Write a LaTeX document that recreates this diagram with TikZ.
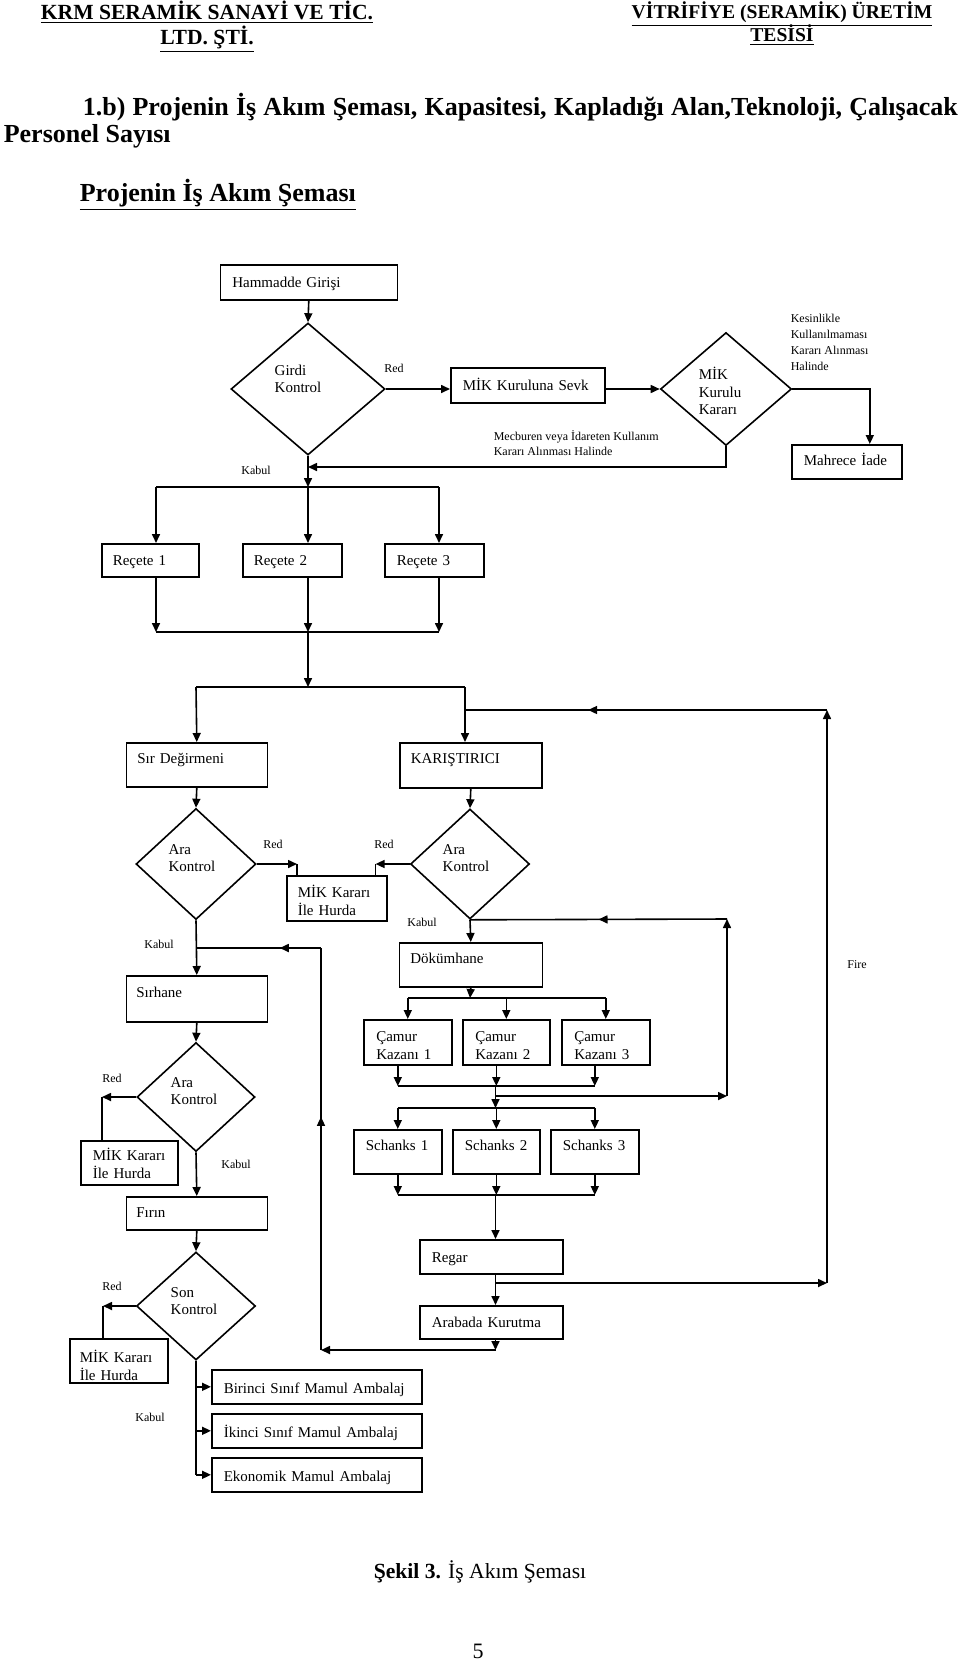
\documentclass[tikz,border=0pt]{standalone}
\usepackage{fontspec}
\setmainfont{Liberation Serif}
\usetikzlibrary{shapes.geometric,arrows.meta,decorations.markings}
\newcommand{\boxfont}{\fontsize{7.5}{8.75}\selectfont}
\newcommand{\tagfont}{\fontsize{6}{7.5}\selectfont}
\tikzset{
box/.style n args={4}{draw, anchor=north west, align=left, font=\boxfont,
  inner ysep=0pt, inner xsep={#3*0.5pt}, text width={(#1-2*#3)*0.5pt},
  text height={#4*0.5pt}, text depth={(#2-#4)*0.5pt}},
diam/.style 2 args={draw, diamond, inner sep=0pt,
  minimum width={#1*0.5pt}, minimum height={#2*0.5pt}},
tag/.style={font=\tagfont, inner sep=0pt},
flow/.style={-{Triangle[length=4.5pt,width=4pt]}},
midflow/.style={postaction={decorate}, decoration={markings,
  mark=at position #1 with {\arrow{Triangle[length=4.5pt,width=4pt]}}}}
}

\begin{document}
\begin{tikzpicture}[x=0.5pt, y=-0.5pt, line width=0.8pt]
\fill[white] (0,0) rectangle (960,1661);
\useasboundingbox (0,0) rectangle (960,1661);

\node[anchor=base, font=\bfseries\fontsize{10.8}{12}\selectfont] (firma1) at (207,19) {\underline{KRM SERAMİK SANAYİ VE TİC.}};
\node[anchor=base, font=\bfseries\fontsize{10.8}{12}\selectfont] (firma2) at (207,44) {\underline{LTD. ŞTİ.}};
\node[anchor=base, font=\bfseries\fontsize{9.8}{11.5}\selectfont] (tesis1) at (782,18) {\underline{VİTRİFİYE (SERAMİK) ÜRETİM}};
\node[anchor=base, font=\bfseries\fontsize{9.8}{11.5}\selectfont] (tesis2) at (782,41) {\underline{TESİSİ}};
\node[anchor=base west, align=left, inner sep=0pt, font=\bfseries\fontsize{13}{13.5}\selectfont] (baslik) at (3,142)
  {\hspace*{39.5pt}\makebox[437.5pt][s]{1.b) Projenin İş Akım Şeması, Kapasitesi, Kapladığı Alan,Teknoloji, Çalışacak}\\Personel Sayısı};
\node[anchor=base west, inner sep=0pt, font=\bfseries\fontsize{13}{14}\selectfont] (semabaslik) at (79,201)
  {\underline{Projenin İş Akım Şeması}};

\node[box={177}{35}{12}{23}] (ham) at (219.5,264) {Hammadde Girişi};
\node[diam={154}{132}, label={[font=\boxfont, align=left, xshift=-5pt, yshift=5pt]center:Girdi\\Kontrol}] (girdi) at (308,389) {};
\node[box={154}{35}{12}{23}] (sevk) at (450,367) {MİK Kuruluna Sevk};
\node[diam={131}{113}, label={[font=\boxfont, align=left, xshift=-3pt, yshift=-1pt]center:MİK\\Kurulu\\Kararı}] (karar) at (726,389) {};
\node[box={110}{34}{12}{21}] (mahrece) at (791,444) {Mahrece İade};
\node[tag] (redg) at (394,368) {Red};
\node[tag] (kabg) at (256,470) {Kabul};
\node[tag, anchor=north west, align=left, font=\fontsize{6}{8}\selectfont] (kesin) at (790,313) {Kesinlikle\\Kullanılmaması\\Kararı Alınması\\Halinde};
\node[tag, anchor=north west, align=left] (mecb) at (493,430) {Mecburen veya İdareten Kullanım\\Kararı Alınması Halinde};

\node[box={97}{33}{11}{22}] (rec1) at (101,543) {Reçete 1};
\node[box={99}{33}{11}{22}] (rec2) at (242,543) {Reçete 2};
\node[box={99}{33}{12}{22}] (rec3) at (384,543) {Reçete 3};

\node[box={141}{44}{11}{21}] (sir) at (125.5,742) {Sır Değirmeni};
\node[box={142}{45}{11}{21}] (kar) at (399,742) {KARIŞTIRICI};
\node[diam={120}{111}, label={[font=\boxfont, align=left, xshift=-2pt, yshift=3pt]center:Ara\\Kontrol}] (ara1) at (196,864) {};
\node[diam={119}{110}, label={[font=\boxfont, align=left, xshift=-2pt, yshift=3pt]center:Ara\\Kontrol}] (ara2) at (470,864) {};
\node[box={100}{45}{11}{22}] (hurda1) at (286,875) {MİK Kararı\\İle Hurda};
\node[tag] (red1) at (273,844) {Red};
\node[tag] (red2) at (384,844) {Red};
\node[tag] (kab2) at (422,922) {Kabul};
\node[tag] (kab1) at (159,944) {Kabul};

\node[box={143}{44}{11}{21}] (dok) at (398.5,942) {Dökümhane};
\node[box={141}{46}{10}{22}] (sirh) at (125.5,975) {Sırhane};
\node[diam={118}{109}, label={[font=\boxfont, align=left, xshift=-1pt, yshift=3pt]center:Ara\\Kontrol}] (ara3) at (196,1097) {};
\node[box={97}{44}{12}{20}] (hurda2) at (80,1140) {MİK Kararı\\İle Hurda};
\node[tag] (red3) at (112,1078) {Red};
\node[tag] (kab3) at (236,1164) {Kabul};
\node[box={141}{33}{10}{21}] (firin) at (125.5,1196) {Fırın};
\node[diam={119}{108}, label={[font=\boxfont, align=left, xshift=-1pt, yshift=2.5pt]center:Son\\Kontrol}] (son) at (196,1306) {};
\node[box={98}{44}{10}{24}] (hurda3) at (69,1338) {MİK Kararı\\İle Hurda};
\node[tag] (red4) at (112,1286) {Red};
\node[tag] (kab4) at (150,1417) {Kabul};
\node[box={210}{34}{12}{24}] (amb1) at (211,1369) {Birinci Sınıf Mamul Ambalaj};
\node[box={210}{34}{12}{24}] (amb2) at (211,1413) {İkinci Sınıf Mamul Ambalaj};
\node[box={210}{34}{12}{24}] (amb3) at (211,1457) {Ekonomik Mamul Ambalaj};

\node[box={88}{45}{12.5}{22}] (cam1) at (363,1019) {Çamur\\Kazanı 1};
\node[box={87}{45}{12.5}{22}] (cam2) at (462,1019) {Çamur\\Kazanı 2};
\node[box={88}{45}{12.5}{22}] (cam3) at (561,1019) {Çamur\\Kazanı 3};
\node[box={88}{44}{12}{21}] (s1) at (353,1129) {Schanks 1};
\node[box={87}{44}{12}{21}] (s2) at (452,1129) {Schanks 2};
\node[box={88}{44}{12}{21}] (s3) at (550,1129) {Schanks 3};
\node[box={143}{34}{12}{23}] (regar) at (419,1239) {Regar};
\node[box={143}{33}{12}{22}] (arabada) at (419,1305) {Arabada Kurutma};
\node[tag] (fire) at (857,965) {Fire};

\coordinate (mh) at ([xshift=11.5pt]mahrece.north);
\coordinate (gk) at (308,467);
\coordinate (rb) at (308,487);
\coordinate (r1t) at (156,487);
\coordinate (r3t) at (439,487);
\coordinate (r1b) at (156,632);
\coordinate (rc) at (308,632);
\coordinate (r3b) at (439,632);
\coordinate (ms) at (308,687);
\coordinate (m1) at (196,687);
\coordinate (m3) at (465,687);
\coordinate (h1l) at ([xshift=5.5pt]hurda1.north west);
\coordinate (h1r) at ([xshift=-6pt]hurda1.north east);
\coordinate (h2) at ([xshift=11pt]hurda2.north west);
\coordinate (h3) at ([xshift=17pt]hurda3.north west);
\coordinate (cb) at (470,998);
\coordinate (cc) at (495.5,1086);
\coordinate (sb) at (495.5,1108);
\coordinate (sc) at (495.5,1195);
\coordinate (fb) at (495.5,1283);
\coordinate (lb) at (495.5,1350);
\coordinate (il0) at (495.5,1096);
\coordinate (il1) at (727,1096);
\coordinate (il2) at (727,919);
\coordinate (f1) at (827,1283);
\coordinate (f2) at (827,710);
\coordinate (l1) at (321,1350);
\coordinate (l2) at (321,948);

\draw[flow] (ham.south) -- (girdi.north);
\draw[flow] (girdi.east) -- (girdi.east -| sevk.west);
\draw[flow] (karar.west -| sevk.east) -- (karar.west);
\draw[flow] (karar.east) -| (mh);
\draw[flow] (karar.south) |- (gk);
\draw[flow] (girdi.south) -- (rb);
\draw (r1t) -- (r3t);
\draw[flow] (r1t) -- (r1t |- rec1.north);
\draw[flow] (rb) -- (rb |- rec2.north);
\draw[flow] (r3t) -- (r3t |- rec3.north);
\draw[flow] (r1b |- rec1.south) -- (r1b);
\draw[flow] (rc |- rec2.south) -- (rc);
\draw[flow] (r3b |- rec3.south) -- (r3b);
\draw (r1b) -- (r3b);
\draw[flow] (rc) -- (ms);
\draw (m1) -- (m3);
\draw[flow] (m1) -- (sir.north);
\draw[flow] (m3) -- (m3 |- kar.north);
\draw[flow] (sir.south) -- (ara1.north);
\draw[flow] (kar.south) -- (ara2.north);
\draw[flow] (ara1.east) -- (ara1.east -| h1l);
\draw (ara1.east -| h1l) -- (h1l);
\draw[flow] (ara2.west) -- (ara2.west -| h1r);
\draw (ara2.west -| h1r) -- (h1r);
\draw[flow] (ara2.south) -- (dok.north);
\draw[flow] (ara1.south) -- (sirh.north);
\draw[flow] (sirh.south) -- (ara3.north);
\draw[flow] (ara3.west) -- (ara3.west -| h2);
\draw (ara3.west -| h2) -- (h2);
\draw[flow] (ara3.south) -- (firin.north);
\draw[flow] (firin.south) -- (son.north);
\draw[flow] (son.west) -- (son.west -| h3);
\draw (son.west -| h3) -- (h3);
\draw (son.south) -- (son.south |- amb3.west);
\foreach \i in {1,2,3}
  \draw[flow] (son.south |- amb\i.west) -- (amb\i.west);

\draw[flow] (dok.south) -- (cb);
\draw (cam1.north |- cb) -- (cam3.north |- cb);
\foreach \i in {1,2,3}{
  \draw[flow] (cam\i.north |- cb) -- (cam\i.north);
  \draw[flow] (s\i.north |- cam\i.south) -- (s\i.north |- cc);
  \draw[flow] (s\i.north |- sb) -- (s\i.north);
  \draw[flow] (s\i.south) -- (s\i.south |- sc);
}
\draw (s1.north |- cc) -- (s3.north |- cc);
\draw[flow] (cc) -- (sb);
\draw (s1.north |- sb) -- (s3.north |- sb);
\draw (s1.south |- sc) -- (s3.south |- sc);
\draw[flow] (sc) -- (sc |- regar.north);
\draw[flow] (sc |- regar.south) -- (sc |- arabada.north);
\draw[flow] (sc |- arabada.south) -- (lb);

\draw[flow] (il0) -- (il1);
\draw[flow] (il1) -- (il2);
\draw[midflow=0.5] (il2) -- (ara2.south);
\draw[flow] (fb) -- (f1);
\draw[flow] (f1) -- (f2);
\draw[midflow=0.66] (f2) -- (m3 |- f2);
\draw[flow] (lb) -- (l1);
\draw[midflow=0.58] (l1) -- (l2);
\draw[midflow=0.33] (l2) -- (ara1.south |- l2);

\node[anchor=base west, inner sep=0pt, font=\fontsize{10.8}{12}\selectfont] (sekil) at (373,1578)
  {\textbf{Şekil 3.} İş Akım Şeması};
\node[anchor=base, inner sep=0pt, font=\fontsize{11}{12}\selectfont] (sayfa) at (478,1658) {5};
\end{tikzpicture}
\end{document}
